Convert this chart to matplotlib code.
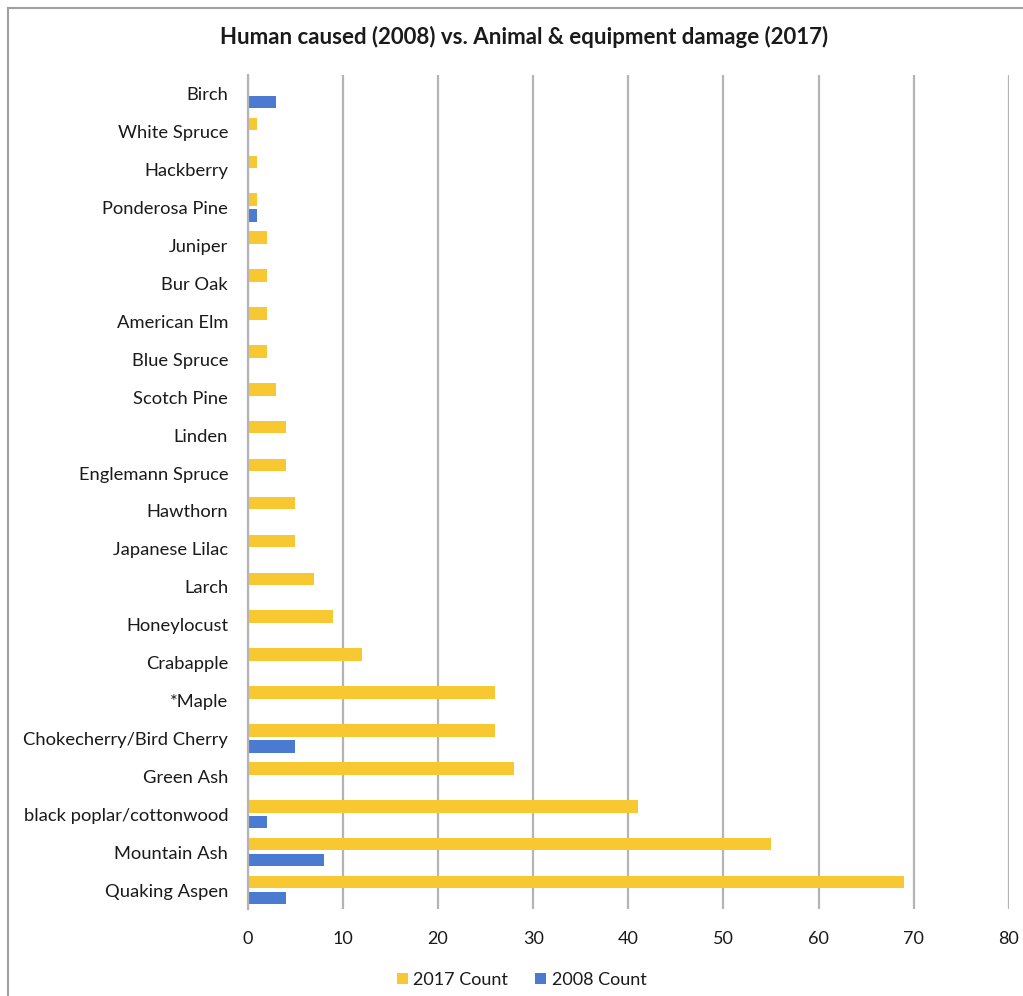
import numpy as np
import matplotlib.pyplot as plt
from matplotlib.lines import Line2D

plt.rcParams['font.family'] = ['Lato', 'DejaVu Sans']

# species listed bottom to top
species = ["Quaking Aspen", "Mountain Ash", "black poplar/cottonwood", "Green Ash",
           "Chokecherry/Bird Cherry", "*Maple", "Crabapple", "Honeylocust", "Larch",
           "Japanese Lilac", "Hawthorn", "Englemann Spruce", "Linden", "Scotch Pine",
           "Blue Spruce", "American Elm", "Bur Oak", "Juniper", "Ponderosa Pine",
           "Hackberry", "White Spruce", "Birch"]
count_2017 = [69, 55, 41, 28, 26, 26, 12, 9, 7, 5, 5, 4, 4, 3, 2, 2, 2, 2, 1, 1, 1, 0]
count_2008 = [4, 8, 2, 0, 5, 0, 0, 0, 0, 0, 0, 0, 0, 0, 0, 0, 0, 0, 1, 0, 0, 3]
x_ticks = [0, 10, 20, 30, 40, 50, 60, 70, 80]

yellow = '#F8C833'
blue = '#4A7BD0'
text_col = '#1a1a1a'

fig = plt.figure(figsize=(10.23, 9.96), dpi=100)
ax = fig.add_axes([0.2421, 0.0873, 0.7442, 0.8374])

y = np.arange(len(species))
h = 0.33
ax.barh(y + 0.21, count_2017, height=h, color=yellow, label='2017 Count', zorder=3)
ax.barh(y - 0.21, count_2008, height=h, color=blue, label='2008 Count', zorder=3)

ax.set_ylim(-0.5, len(species) - 0.5)
ax.set_xlim(0, 80)
ax.set_xticks(x_ticks)
ax.set_yticks(y)
ax.set_yticklabels(species)
ax.tick_params(axis='y', length=0, pad=14, labelsize=13.2, labelcolor=text_col)
ax.tick_params(axis='x', length=0, pad=16, labelsize=13, labelcolor=text_col)
ax.xaxis.grid(True, color='#b4b4b4', linewidth=1.6, zorder=0)

for s in ['top', 'right', 'bottom']:
    ax.spines[s].set_visible(False)
ax.spines['left'].set_color('#b4b4b4')
ax.spines['left'].set_linewidth(1.6)
ax.spines['left'].set_zorder(4)

fig.text(0.512, 0.963, "Human caused (2008) vs. Animal & equipment damage (2017)",
         ha='center', va='center', fontsize=16, fontweight='bold', color=text_col)

ax.legend(loc='center', bbox_to_anchor=(0.51, 0.016), bbox_transform=fig.transFigure,
          ncol=2, frameon=False, fontsize=13, handlelength=0.6, handleheight=0.6,
          handletextpad=0.3, columnspacing=1.5, labelcolor=text_col)

# light frame on the top and left edges
fig.add_artist(Line2D([8 / 1023, 1.0], [1 - 8 / 996, 1 - 8 / 996],
                      transform=fig.transFigure, color='#a0a0a0', linewidth=1.5))
fig.add_artist(Line2D([8 / 1023, 8 / 1023], [0.0, 1 - 8 / 996],
                      transform=fig.transFigure, color='#a0a0a0', linewidth=1.5))

fig.savefig('out.png', dpi=100, facecolor='white')
